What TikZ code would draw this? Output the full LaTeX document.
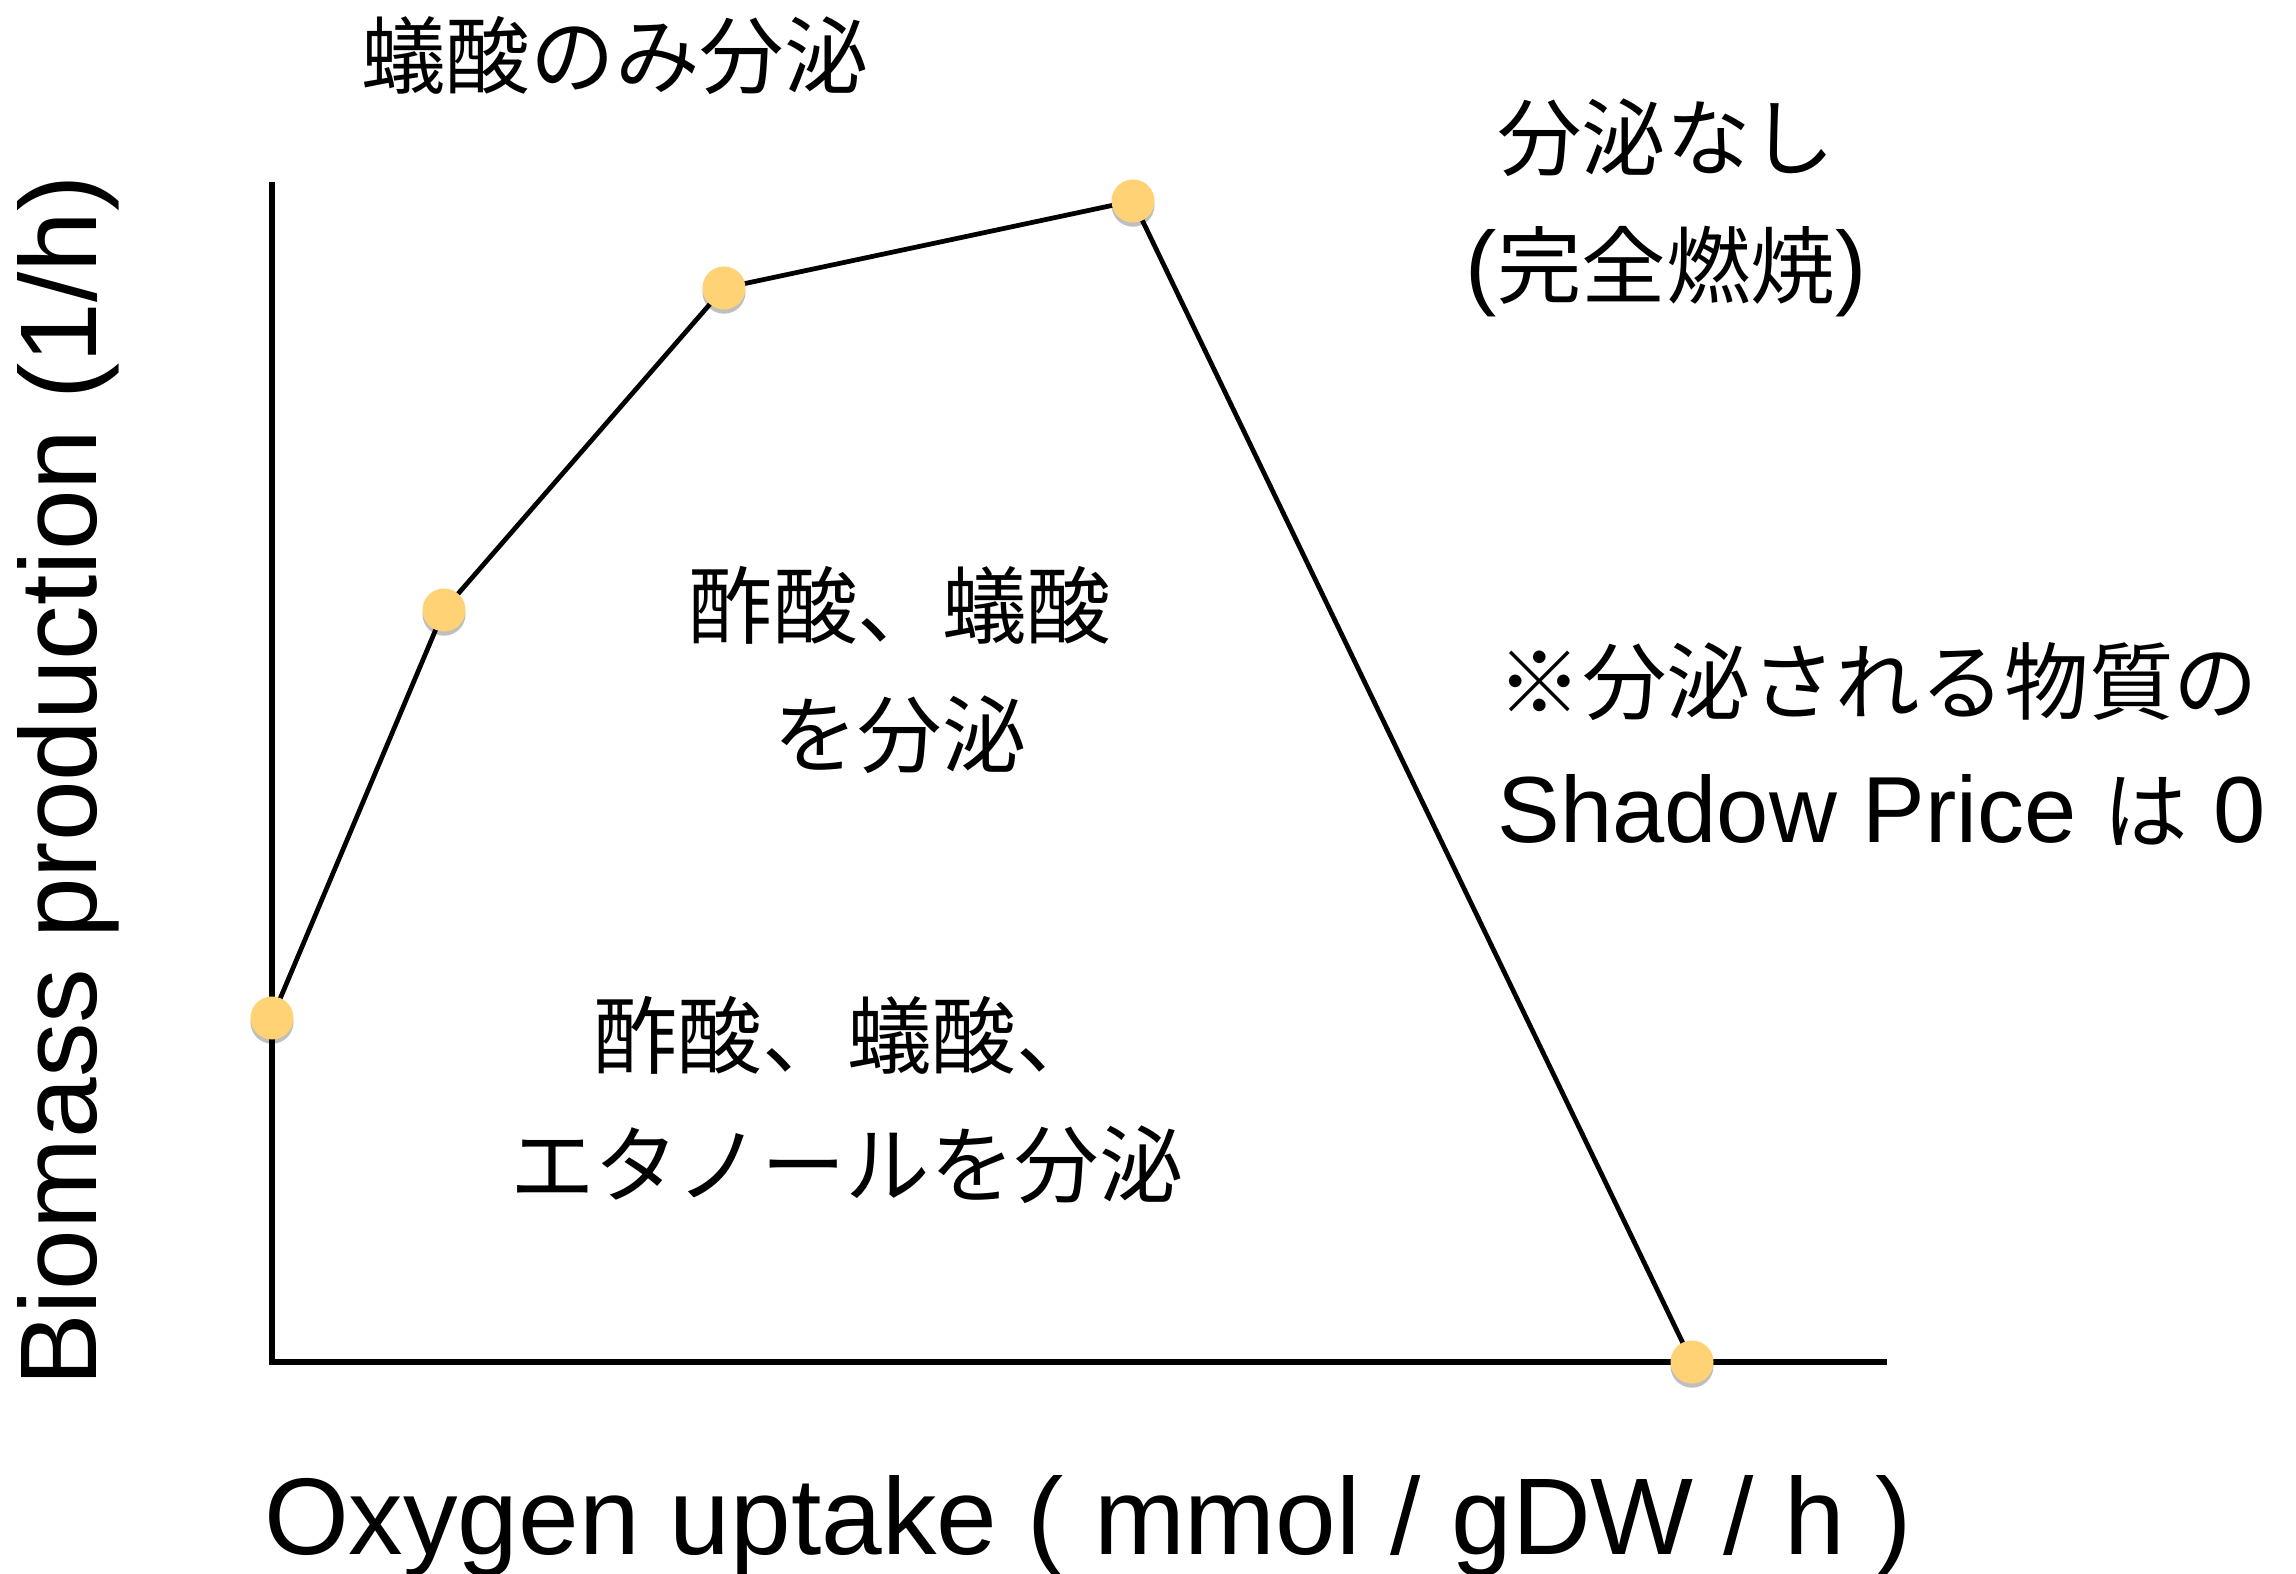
\documentclass[tikz,border=0pt]{standalone}
\usepackage{fontspec}
\setmainfont{Liberation Sans}
\newfontfamily\jp[Scale=0.9]{Noto Sans CJK JP}
\usetikzlibrary{shadows}
\definecolor{dotc}{HTML}{FFD275}
\def \bodyfont {\fontsize{26.7}{36.5}\selectfont}
\def \labelfont {\fontsize{31}{37}\selectfont}
\tikzstyle{axis} = [line width=1.45pt,line join=miter]
\tikzstyle{edge} = [line width=1.35pt]
\tikzstyle{vertex} = [circle,fill=dotc,minimum size=0.43cm,inner sep=0,drop shadow={shadow xshift=0pt,shadow yshift=-1.2pt,opacity=0.25,fill=black}]
\tikzstyle{region} = [inner sep=0,align=center,font=\bodyfont\jp]

\begin{document}
\begin{tikzpicture}[x=0.01cm,y=-0.01cm]
      \useasboundingbox (0,0) rectangle (2296,1574);
      % axes
      \coordinate (o) at (272,1362);
      \coordinate (ytop) at (272,182);
      \coordinate (xend) at (1887,1362);
      \draw[axis] (ytop) -- (o) -- (xend);
      \node[anchor=base,rotate=90,inner sep=0,font=\labelfont] (ylab) at (97,781) {Biomass production (1/h)};
      \node[anchor=base,inner sep=0,font=\labelfont] (xlab) at (1088,1555) {Oxygen uptake ( mmol / gDW / h )};
      % phase plane edge
      \coordinate (p1) at (272,1018);
      \coordinate (p2) at (444,610);
      \coordinate (p3) at (724,288);
      \coordinate (p4) at (1133,201);
      \coordinate (p5) at (1692,1362);
      \draw[edge] (p1) -- (p2) -- (p3) -- (p4) -- (p5);
      \foreach \p in {p1,p2,p3,p4,p5}
        \node[vertex] (d\p) at (\p) {};
      % regions
      \node[region] (formic) at (615,56) {蟻酸のみ分泌};
      \node[region] (nosec) at (1666,208) {分泌なし\\{\rmfamily(}完全燃焼{\rmfamily)}};
      \node[region] (acform) at (900,670) {酢酸、蟻酸\\を分泌};
      \node[region] (acformet) at (847,1100) {酢酸、蟻酸、\\エタノールを分泌};
      \node[inner sep=0,align=left,anchor=west,font=\bodyfont] (note) at (1497,744) {{\jp ※分泌される物質の}\\Shadow Price {\jp は} 0};
    \end{tikzpicture}
\end{document}
